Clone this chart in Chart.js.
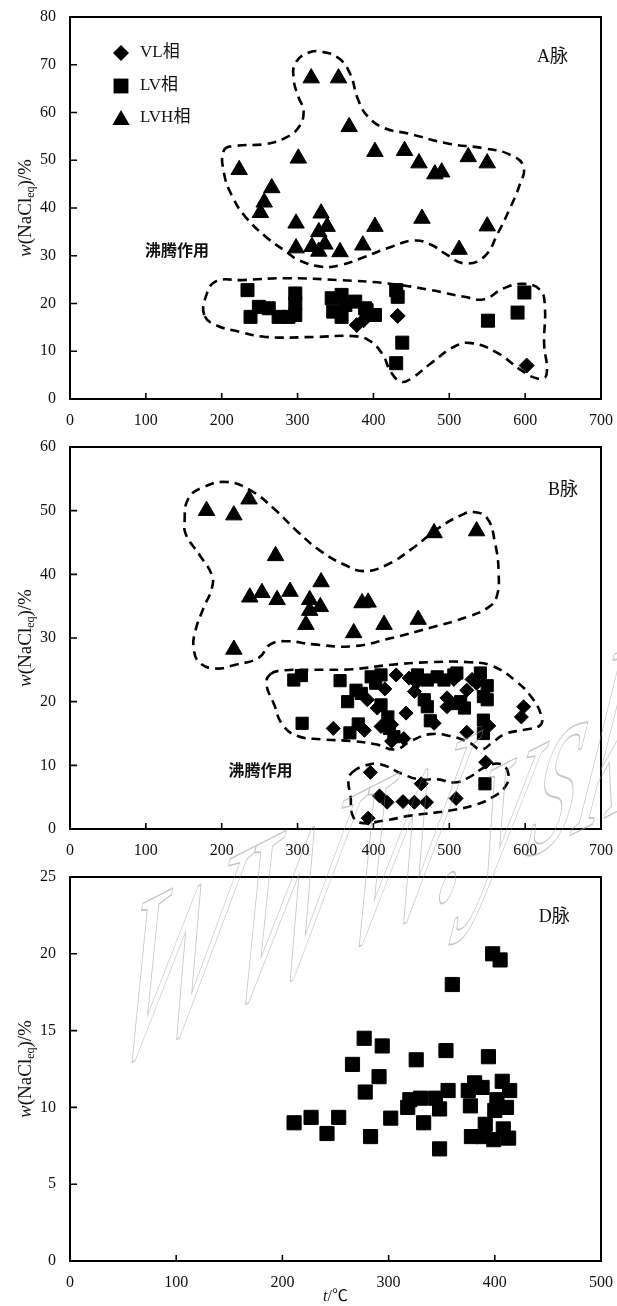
<!DOCTYPE html>
<html>
<head>
<meta charset="utf-8">
<script src="https://cdn.jsdelivr.net/npm/chart.js@4.4.1/dist/chart.umd.min.js"></script>
<style>
  html, body { margin: 0; padding: 0; background: #fff; }
  #wrap { position: relative; width: 617px; height: 1306px; overflow: hidden; }
  #wrap canvas { position: absolute; left: 0; }
  #mark { top: 0; pointer-events: none; }
</style>
</head>
<body>
<div id="wrap">
  <canvas id="chartA" width="617" height="425" style="top:0"></canvas>
  <canvas id="chartB" width="617" height="425" style="top:430px"></canvas>
  <canvas id="chartD" width="617" height="446" style="top:860px"></canvas>
  <canvas id="mark" width="617" height="1306"></canvas>
</div>
<script>
// A脉  [t(℃), w(NaCl eq) %]
const aVL  = [[378,15.5],[387,16.5],[432,17.4],[602,7]];
const aLV  = [[234,22.8],[238,17.2],[249,19.3],[262,19],[275,17.2],[288,17.2],[297,22.1],[297,20],[297,17.6],
              [345,21.1],[358,21.8],[347,18.3],[358,17.2],[363,19.7],[376,20.4],[389,19],[391,18.6],[402,17.6],
              [430,22.8],[432,21.4],[438,11.8],[430,7.5],[551,16.4],[590,18.1],[599,22.3]];
const aLVH = [[223,48],[266,44.2],[256,41.2],[251,39],[301,50.4],[318,67.2],[354,67.2],[368,57],[402,51.8],
              [441,52],[460,49.4],[481,47.1],[490,47.5],[525,50.7],[550,49.4],[298,36.8],[331,38.9],[339,36.1],
              [328,35],[402,36.1],[464,37.8],[550,36.2],[513,31.3],[298,31.6],[319,31.9],[328,30.9],[336,32.4],
              [356,30.8],[386,32.2]];
// dashed outlines (A)
const aRing1 = [[203,52.1],[218,53],[258,53.4],[284,54.7],[301,56.8],[308,60.2],[301,63.3],[295,66.8],[297,70.3],
                [314,72.5],[332,72.7],[354,71.4],[369,68.2],[380,62.6],[393,59.1],[415,56.7],[446,55.6],[498,53.5],
                [546,52.5],[581,51.1],[598,48.6],[592,44.5],[581,40.3],[564,34.7],[546,29.8],[520,28.4],[494,30.5],
                [476,32.3],[454,33.2],[424,31.9],[389,29.8],[358,28.1],[332,27.7],[301,29.1],[288,30.5],[258,34],
                [231,38.2],[214,42.4],[203,47.3]];
const aRing2 = [[177,17.6],[179,21.4],[192,24.6],[227,24.9],[288,25.3],[354,24.9],[419,24.2],[476,22.8],[520,21.4],
                [546,20.9],[572,23.2],[599,24.1],[620,22.8],[626,19.3],[625,11.7],[628,5],[616,4.3],[594,6.1],
                [564,9.6],[529,11.7],[507,11],[476,7.5],[450,4.3],[437,3.6],[424,5.4],[411,9.6],[393,12.4],
                [371,13.2],[323,13],[258,13],[223,14.1],[192,15.5]];

// B脉
const bVL  = [[347,15.8],[388,15.5],[392,20.3],[405,19],[410,16.1],[415,22],[424,16.4],[424,13.8],[430,24.2],
              [440,14.2],[443,18.2],[447,23.7],[454,21.6],[457,23],[480,16.6],[497,19.2],[497,20.6],[506,23.5],
              [523,15.2],[523,21.8],[530,23.5],[536,22.9],[552,16.2],[595,17.6],[598,19.2],[396,8.9],[408,5.2],
              [418,4.2],[439,4.3],[454,4.2],[470,4.2],[463,7.1],[509,4.8],[548,10.5],[393,1.7]];
const bLV  = [[295,23.4],[305,24.1],[306,16.6],[356,23.3],[366,20],[369,15.1],[377,21.8],[380,16.5],[384,21.3],
              [397,23.9],[403,22.9],[410,24.2],[410,19.5],[419,17.6],[421,15.8],[427,14.5],[458,24.2],[467,20.3],
              [471,23.4],[471,19.2],[475,17],[484,23.9],[493,23.4],[506,24.2],[508,19.7],[510,24.5],[515,20],
              [520,19],[541,24.5],[545,20.8],[545,17.1],[545,15],[550,20.3],[550,22.5],[547,7.1]];
const bLVH = [[180,50],[216,49.3],[236,51.8],[271,42.9],[237,36.4],[253,37.1],[273,36],[290,37.3],[316,36],
              [331,38.8],[316,34.3],[330,34.9],[311,32.1],[216,28.2],[385,35.5],[393,35.6],[374,30.8],[414,32.1],
              [459,32.9],[480,46.5],[536,46.8]];
const bRing1 = [[151,48.3],[156,51.9],[176,53.7],[207,54.5],[238,53.2],[269,50.3],[300,46.7],[331,43.6],[362,41.5],
                [387,40.5],[418,41.5],[454,44.3],[485,47.2],[516,49.3],[532,49.8],[550,48.8],[560,45.1],[565,40.4],
                [562,36.3],[550,34.7],[526,33.4],[475,31.6],[424,30],[372,28.7],[321,29],[285,29.5],[264,29],
                [249,26.9],[218,25.8],[192,25.2],[171,26.1],[163,28.4],[165,31],[176,34.7],[187,37.8],[187,39.9],
                [171,43],[153,46.2]];
const bRing2 = [[264,24.3],[280,24.9],[321,25],[372,25.1],[424,25.8],[475,26.2],[526,26.2],[557,25.6],[588,23.2],
                [609,20.6],[622,17.5],[619,16.2],[599,15.6],[573,14.9],[557,13.6],[542,12.5],[526,13.6],[501,14.6],
                [475,14.9],[449,13.8],[429,12.5],[403,13.3],[372,13.8],[331,14.1],[300,14.6],[280,16.4],[269,19.6],
                [259,22.7]];
const bRing3 = [[372,8.9],[388,9.9],[408,10.2],[439,8.6],[460,7.8],[485,7.8],[506,7.3],[526,8.1],[547,9.7],
                [568,10.2],[578,8.6],[573,6.5],[557,5],[537,3.9],[501,2.9],[449,2.1],[413,1.3],[382,1],[372,2.3],
                [370,5],[367,7.6]];

// D脉
const dLV  = [[211,9],[227,9.35],[242,8.3],[253,9.35],[266,12.8],[277,14.5],[278,11],[283,8.1],[291,12],[294,14],
              [302,9.3],[318,10],[320,10.5],[326,13.1],[330,10.6],[333,9],[344,10.6],[348,9.9],[348,7.3],[354,13.7],
              [356,11.1],[360,18],[375,11.1],[377,10.1],[378,8.1],[381,11.6],[388,11.3],[389,8.1],[391,8.9],
              [394,13.3],[398,20],[399,7.9],[400,9.8],[402,10.5],[405,19.6],[407,11.7],[408,8.6],[411,10],
              [413,8],[414,11.1]];

const xTicksA = [0, 700], yTicksA = [0, 80, 10];
const xTicksB = [0, 700], yTicksB = [0, 60, 10];
const xTicksD = [0, 500], yTicksD = [0, 25, 5];

const serif = '"Liberation Serif", "Times New Roman", "Noto Sans CJK SC", serif';
const toPts = arr => arr.map(([x, y]) => ({x, y}));

function markers(arr, style, r) {
  return { data: toPts(arr), pointStyle: style, pointRadius: r, backgroundColor: '#000',
           borderColor: '#000', borderWidth: 1, showLine: false };
}
// closed dashed curve: wrap the ring so every vertex has neighbours, hide the two wrap segments
function ring(arr) {
  const n = arr.length;
  const data = toPts([arr[n - 1], ...arr, arr[0], arr[1]]);
  const last = data.length - 1;
  return { data, showLine: true, pointRadius: 0, tension: 0.45, borderColor: '#000', borderWidth: 2.6,
           borderDash: [9, 6], backgroundColor: 'transparent',
           segment: { borderColor: c => (c.p0DataIndex === 0 || c.p1DataIndex === last) ? 'rgba(0,0,0,0)' : undefined } };
}

function yTitle(ctx, cx, cy) {
  const parts = [
    {t: 'w', f: 'italic 19px ' + serif, dy: 0},
    {t: '(NaCl', f: '19px ' + serif, dy: 0},
    {t: 'eq', f: '12px ' + serif, dy: 5},
    {t: ')/%', f: '19px ' + serif, dy: 0}
  ];
  ctx.save();
  ctx.translate(cx, cy);
  ctx.rotate(-Math.PI / 2);
  let w = 0;
  parts.forEach(p => { ctx.font = p.f; p.w = ctx.measureText(p.t).width; w += p.w; });
  let x = -w / 2;
  ctx.textBaseline = 'middle';
  ctx.textAlign = 'left';
  ctx.fillStyle = '#111';
  parts.forEach(p => { ctx.font = p.f; ctx.fillText(p.t, x, p.dy); x += p.w; });
  ctx.restore();
}

function shape(ctx, kind, x, y, r) {
  ctx.beginPath();
  if (kind === 'rect') {
    const s = r * Math.SQRT1_2;
    ctx.rect(x - s, y - s, 2 * s, 2 * s);
  } else if (kind === 'rectRot') {
    ctx.moveTo(x, y - r); ctx.lineTo(x + r, y); ctx.lineTo(x, y + r); ctx.lineTo(x - r, y); ctx.closePath();
  } else {
    ctx.moveTo(x, y - r);
    ctx.lineTo(x + r * Math.sin(Math.PI / 3), y + r / 2);
    ctx.lineTo(x - r * Math.sin(Math.PI / 3), y + r / 2);
    ctx.closePath();
  }
  ctx.fill();
}

// frame, inward ticks, titles and text notes
const frame = {
  id: 'frame',
  afterDraw(chart, args, opts) {
    const {ctx, chartArea: a, scales: {x, y}} = chart;
    ctx.save();
    ctx.strokeStyle = '#000';
    ctx.lineWidth = 1.6;
    ctx.beginPath();
    x.ticks.forEach((t, i) => { const px = x.getPixelForTick(i); ctx.moveTo(px, a.bottom); ctx.lineTo(px, a.bottom - 6); });
    y.ticks.forEach((t, i) => { const py = y.getPixelForTick(i); ctx.moveTo(a.left, py); ctx.lineTo(a.left + 7, py); });
    ctx.stroke();
    ctx.lineWidth = 2;
    ctx.strokeRect(a.left, a.top, a.right - a.left, a.bottom - a.top);

    yTitle(ctx, 26, (a.top + a.bottom) / 2);

    ctx.fillStyle = '#111';
    ctx.textBaseline = 'middle';
    (opts.notes || []).forEach(n => {
      ctx.font = n.font;
      ctx.textAlign = 'center';
      ctx.fillText(n.text, x.getPixelForValue(n.x), y.getPixelForValue(n.y));
    });

    if (opts.legend) {
      const lx = a.left + 51, tx = a.left + 70;
      const rows = [['rectRot', 8, 'VL相', 36], ['rect', 10.5, 'LV相', 69], ['triangle', 10, 'LVH相', 101]];
      rows.forEach(([k, r, label, dy]) => {
        ctx.fillStyle = '#000';
        shape(ctx, k, lx, a.top + dy + (k === 'triangle' ? 2 : 0), r);
        ctx.fillStyle = '#111';
        ctx.font = '17px ' + serif;
        ctx.textAlign = 'left';
        ctx.fillText(label, tx, a.top + dy);
      });
    }

    if (opts.xTitle) {
      const cx = (a.left + a.right) / 2, cy = a.bottom + 36;
      ctx.textAlign = 'left';
      ctx.font = 'italic 16px ' + serif;
      const w1 = ctx.measureText('t').width;
      ctx.font = '16px ' + serif;
      const w2 = ctx.measureText('/℃').width;
      ctx.font = 'italic 16px ' + serif;
      ctx.fillText('t', cx - (w1 + w2) / 2, cy);
      ctx.font = '16px ' + serif;
      ctx.fillText('/℃', cx - (w1 + w2) / 2 + w1, cy);
    }
    ctx.restore();
  }
};

function makeChart(id, datasets, xt, yt, extra) {
  return new Chart(document.getElementById(id), {
    type: 'scatter',
    data: { datasets },
    options: {
      responsive: false,
      animation: false,
      events: [],
      layout: { padding: { left: 18, right: extra.right, top: 17, bottom: extra.bottom } },
      plugins: { legend: { display: false }, tooltip: { enabled: false }, frame: extra.frame },
      scales: {
        x: {
          type: 'linear', min: xt[0], max: xt[1],
          afterFit: s => { s.height = 26; },
          grid: { display: false }, border: { display: false },
          ticks: { stepSize: 100, color: '#111', padding: 4, maxRotation: 0, autoSkip: false,
                   font: { family: serif, size: 16 } }
        },
        y: {
          type: 'linear', min: yt[0], max: yt[1],
          afterFit: s => { s.width = 52; },
          grid: { display: false }, border: { display: false },
          ticks: { stepSize: yt[2], color: '#111', padding: 6, font: { family: serif, size: 16 } }
        }
      }
    },
    plugins: [frame]
  });
}

const cjk = '"Noto Sans CJK SC", sans-serif';
makeChart('chartA', [
  markers(aVL, 'rectRot', 7.5), markers(aLV, 'rect', 9.2), markers(aLVH, 'triangle', 9.5),
  ring(aRing1), ring(aRing2)
], xTicksA, yTicksA, { right: 13, bottom: 0, frame: {
  legend: true,
  notes: [{text: 'A脉', x: 636, y: 71.6, font: '18px ' + serif}, {text: '沸腾作用', x: 141, y: 31.2, font: 'bold 16px ' + cjk}]
}});

makeChart('chartB', [
  markers(bVL, 'rectRot', 7), markers(bLV, 'rect', 8.6), markers(bLVH, 'triangle', 9.5),
  ring(bRing1), ring(bRing2), ring(bRing3)
], xTicksB, yTicksB, { right: 12, bottom: 0, frame: {
  notes: [{text: 'B脉', x: 650, y: 53.2, font: '18px ' + serif}, {text: '沸腾作用', x: 251, y: 9.3, font: 'bold 16px ' + cjk}]
}});

makeChart('chartD', [
  markers(dLV, 'rect', 10)
], xTicksD, yTicksD, { right: 12, bottom: 19, frame: {
  xTitle: true,
  notes: [{text: 'D脉', x: 456, y: 22.4, font: '18px ' + serif}]
}});

// faint outlined watermark across the lower panels
(function () {
  const ctx = document.getElementById('mark').getContext('2d');
  const ang = -27 * Math.PI / 180, up = -76 * Math.PI / 180;
  const k = 0.5;
  ctx.setTransform(k * Math.cos(ang), k * Math.sin(ang), -Math.cos(up), -Math.sin(up), 100, 1075);
  ctx.font = '270px "Liberation Serif", serif';
  ctx.strokeStyle = 'rgba(150,150,150,0.55)';
  ctx.lineWidth = 1.8;
  ctx.strokeText('WWW.ysk', 0, 0);
})();
</script>
</body>
</html>
